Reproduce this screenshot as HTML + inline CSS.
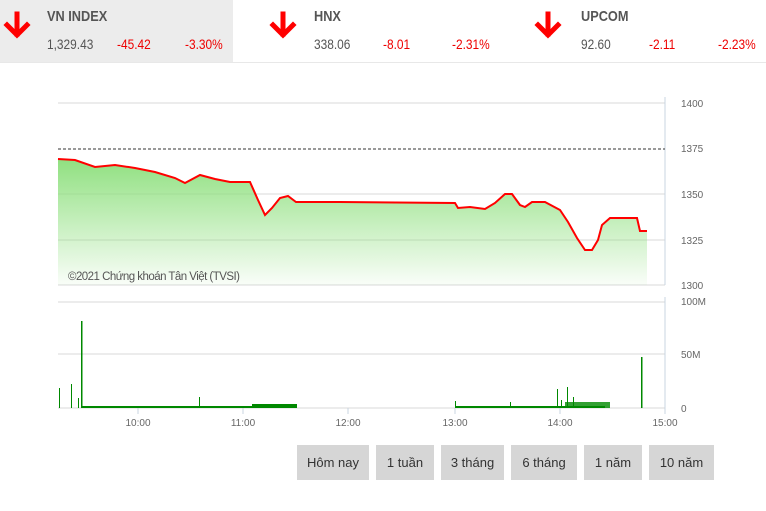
<!DOCTYPE html>
<html><head><meta charset="utf-8"><style>
body{margin:0;width:766px;height:511px;background:#fff;font-family:"Liberation Sans",sans-serif;position:relative;overflow:hidden}
.hd{position:absolute;top:0;height:62px}
.t{position:absolute;font-size:15px;font-weight:bold;color:#555;top:8px;transform:scaleX(.85);transform-origin:left}
.v{position:absolute;font-size:14px;color:#555;top:36px;transform:scaleX(.85);transform-origin:left}
.r{color:#e00}
.btn{position:absolute;top:445px;height:35px;background:#d6d6d6;font-size:13px;color:#333;text-align:center;line-height:35px}
</style></head><body>
<div class="hd" style="left:0;width:233px;background:#ececec"></div>
<div style="position:absolute;left:0;top:62px;width:766px;height:1px;background:#e8e8e8"></div>
<svg style="position:absolute;left:0;top:0" width="766" height="62">
<g stroke="#f00" stroke-width="5" fill="none" stroke-linecap="square"><path d="M17 14v20M7 25l10 10 10-10"/><path d="M283 14v20M273 25l10 10 10-10"/><path d="M548 14v20M538 25l10 10 10-10"/></g></svg>
<div class="t" style="left:47px">VN INDEX</div>
<div class="v" style="left:47px">1,329.43</div><div class="v r" style="left:117px">-45.42</div><div class="v r" style="left:185px">-3.30%</div>
<div class="t" style="left:314px">HNX</div>
<div class="v" style="left:314px">338.06</div><div class="v r" style="left:383px">-8.01</div><div class="v r" style="left:452px">-2.31%</div>
<div class="t" style="left:581px">UPCOM</div>
<div class="v" style="left:581px">92.60</div><div class="v r" style="left:649px">-2.11</div><div class="v r" style="left:718px">-2.23%</div>
<svg style="position:absolute;left:0;top:0" width="766" height="511" font-family="Liberation Sans, sans-serif" font-size="10" fill="#666">
<defs><linearGradient id="g" x1="0" y1="0" x2="0" y2="1"><stop offset="0" stop-color="#90e080"/><stop offset="1" stop-color="#90e080" stop-opacity="0.05"/></linearGradient></defs>
<g stroke="#d8d8d8"><line x1="58" y1="103" x2="665" y2="103"/><line x1="58" y1="194" x2="665" y2="194"/><line x1="58" y1="240" x2="665" y2="240"/><line x1="58" y1="285" x2="665" y2="285"/>
<line x1="58" y1="302" x2="665" y2="302"/><line x1="58" y1="354" x2="665" y2="354"/><line x1="58" y1="408" x2="665" y2="408"/></g>
<g stroke="#c8d4e0"><line x1="665" y1="97" x2="665" y2="285"/><line x1="665" y1="297" x2="665" y2="408"/>
<line x1="138" y1="408" x2="138" y2="414"/><line x1="243" y1="408" x2="243" y2="414"/><line x1="348" y1="408" x2="348" y2="414"/><line x1="455" y1="408" x2="455" y2="414"/><line x1="560" y1="408" x2="560" y2="414"/><line x1="665" y1="408" x2="665" y2="414"/></g>
<path d="M58 285L58 159L75 160L95 167L115 165L135 168L155 172L175 178L185 183L200 175L215 179L230 182L250 182L258 200L265 215L272 208L280 198L288 196L296 202L340 202L455 203L458 208L470 207L485 209L495 203L505 194L512 194L520 205L525 207L532 202L545 202L560 210L568 222L577 238L585 250L592 250L598 240L602 225L610 218L637 218L640 231L647 231L647 285Z" fill="url(#g)"/>
<path d="M58 159L75 160L95 167L115 165L135 168L155 172L175 178L185 183L200 175L215 179L230 182L250 182L258 200L265 215L272 208L280 198L288 196L296 202L340 202L455 203L458 208L470 207L485 209L495 203L505 194L512 194L520 205L525 207L532 202L545 202L560 210L568 222L577 238L585 250L592 250L598 240L602 225L610 218L637 218L640 231L647 231" fill="none" stroke="#f00" stroke-width="2"/>
<line x1="58" y1="149" x2="665" y2="149" stroke="#333" stroke-dasharray="3,2"/>
<text x="68" y="280" font-size="11.5" fill="#555" textLength="172">©2021 Chứng khoán Tân Việt (TVSI)</text>
<g fill="#080">
<rect x="59" y="388" width="1" height="20"/><rect x="71" y="384" width="1" height="24"/><rect x="81" y="321" width="1.5" height="87"/><rect x="78" y="398" width="1" height="10"/><rect x="199" y="397" width="1" height="11"/><rect x="455" y="401" width="1" height="7"/><rect x="557" y="389" width="1" height="19"/><rect x="567" y="387" width="1" height="21"/><rect x="573" y="397" width="1" height="11"/><rect x="641" y="357" width="1.5" height="51"/><rect x="510" y="402" width="1" height="6"/><rect x="561" y="400" width="1" height="8"/>
<rect x="82" y="406" width="215" height="2"/><rect x="252" y="404" width="45" height="4"/><rect x="455" y="406" width="150" height="2"/><rect x="565" y="402" width="45" height="6" opacity="0.8"/><rect x="180" y="406" width="20" height="2"/></g>
<g text-anchor="start"><text x="681" y="107">1400</text><text x="681" y="152">1375</text><text x="681" y="198">1350</text><text x="681" y="244">1325</text><text x="681" y="289">1300</text>
<text x="681" y="305">100M</text><text x="681" y="358">50M</text><text x="681" y="412">0</text></g>
<g text-anchor="middle"><text x="138" y="426">10:00</text><text x="243" y="426">11:00</text><text x="348" y="426">12:00</text><text x="455" y="426">13:00</text><text x="560" y="426">14:00</text><text x="665" y="426">15:00</text></g>
</svg>
<div class="btn" style="left:297px;width:72px">Hôm nay</div>
<div class="btn" style="left:376px;width:58px">1 tuần</div>
<div class="btn" style="left:441px;width:63px">3 tháng</div>
<div class="btn" style="left:511px;width:66px">6 tháng</div>
<div class="btn" style="left:584px;width:58px">1 năm</div>
<div class="btn" style="left:649px;width:65px">10 năm</div>
</body></html>
